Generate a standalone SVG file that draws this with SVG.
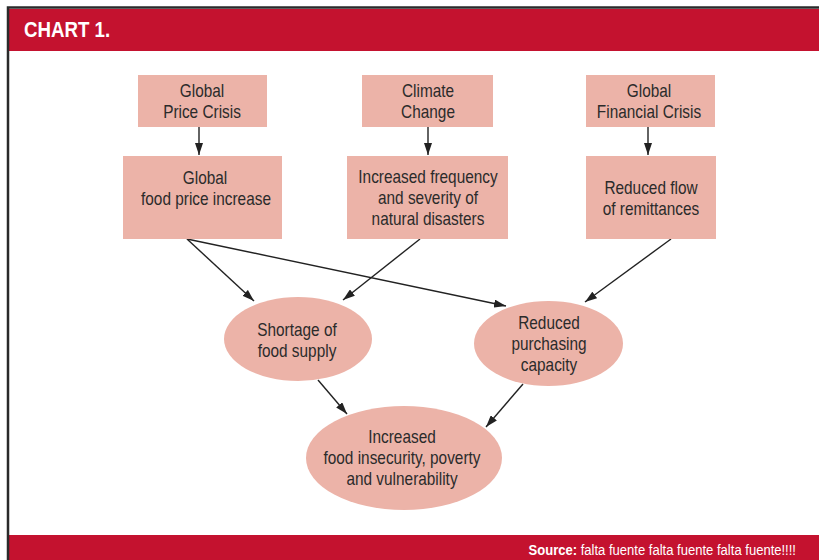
<svg xmlns="http://www.w3.org/2000/svg" width="819" height="560" viewBox="0 0 819 560">
<defs>
<style>
.box{fill:#ecb3a8;}
.t{font-family:"Liberation Sans",Arial,sans-serif;font-size:18px;fill:#2b2b2b;text-anchor:middle;}
.c{stroke:#222;stroke-width:1.4;fill:none;marker-end:url(#ah);}
</style>
<marker id="ah" viewBox="0 0 12 8" refX="12" refY="4" markerWidth="12" markerHeight="8" markerUnits="userSpaceOnUse" orient="auto">
<path d="M0,0 L12,4 L0,8 Z" fill="#222"/>
</marker>
</defs>
<rect x="0" y="0" width="819" height="560" fill="#fff"/>
<rect x="9" y="9" width="810" height="42" fill="#c4122f"/>
<rect x="9" y="535" width="810" height="25" fill="#c4122f"/>
<path d="M8,560 V7.5 H819" stroke="#2a2a2a" stroke-width="2.5" fill="none"/>
<text transform="translate(24,0) scale(0.85,1)" x="0" y="37" font-family="Liberation Sans,Arial,sans-serif" font-weight="bold" font-size="22" fill="#fff">CHART 1.</text>
<text transform="translate(796,0) scale(0.9,1)" x="0" y="555" text-anchor="end" font-family="Liberation Sans,Arial,sans-serif" font-size="14.5" fill="#fff"><tspan font-weight="bold">Source:</tspan> falta fuente falta fuente falta fuente!!!!</text>

<g id="connectors">
<line class="c" x1="199" y1="127" x2="199" y2="155"/>
<line class="c" x1="428" y1="127" x2="428" y2="155"/>
<line class="c" x1="648" y1="127" x2="648" y2="155"/>
<line class="c" x1="187" y1="239" x2="254" y2="301"/>
<line class="c" x1="187" y1="239" x2="506" y2="306"/>
<line class="c" x1="420" y1="239" x2="343" y2="300"/>
<line class="c" x1="671" y1="239" x2="585" y2="302"/>
<line class="c" x1="318" y1="380" x2="347" y2="414"/>
<line class="c" x1="523" y1="384" x2="486" y2="427"/>
</g>

<g id="global-price-crisis">
<rect class="box" x="138" y="75" width="129" height="52"/>
<text class="t" transform="translate(202,0) scale(0.855,1)" x="0" y="97">Global</text>
<text class="t" transform="translate(202,0) scale(0.855,1)" x="0" y="118">Price Crisis</text>
</g>
<g id="climate-change">
<rect class="box" x="362" y="75" width="131" height="52"/>
<text class="t" transform="translate(428,0) scale(0.855,1)" x="0" y="97">Climate</text>
<text class="t" transform="translate(428,0) scale(0.855,1)" x="0" y="118">Change</text>
</g>
<g id="global-financial-crisis">
<rect class="box" x="586" y="75" width="129" height="52"/>
<text class="t" transform="translate(649,0) scale(0.855,1)" x="0" y="97">Global</text>
<text class="t" transform="translate(649,0) scale(0.855,1)" x="0" y="118">Financial Crisis</text>
</g>
<g id="food-price-increase">
<rect class="box" x="123" y="156" width="159" height="83"/>
<text class="t" transform="translate(205,0) scale(0.855,1)" x="0" y="184">Global</text>
<text class="t" transform="translate(206,0) scale(0.855,1)" x="0" y="205">food price increase</text>
</g>
<g id="natural-disasters">
<rect class="box" x="347" y="156" width="161" height="83"/>
<text class="t" transform="translate(428,0) scale(0.855,1)" x="0" y="183">Increased frequency</text>
<text class="t" transform="translate(428,0) scale(0.855,1)" x="0" y="204">and severity of</text>
<text class="t" transform="translate(428,0) scale(0.855,1)" x="0" y="225">natural disasters</text>
</g>
<g id="remittances">
<rect class="box" x="586" y="156" width="130" height="83"/>
<text class="t" transform="translate(651,0) scale(0.855,1)" x="0" y="194">Reduced flow</text>
<text class="t" transform="translate(651,0) scale(0.855,1)" x="0" y="215">of remittances</text>
</g>
<g id="shortage">
<ellipse class="box" cx="298" cy="339" rx="74" ry="42"/>
<text class="t" transform="translate(297,0) scale(0.855,1)" x="0" y="336">Shortage of</text>
<text class="t" transform="translate(297,0) scale(0.855,1)" x="0" y="357">food supply</text>
</g>
<g id="purchasing">
<ellipse class="box" cx="548.5" cy="343.5" rx="74.5" ry="42.5"/>
<text class="t" transform="translate(549,0) scale(0.855,1)" x="0" y="329">Reduced</text>
<text class="t" transform="translate(549,0) scale(0.855,1)" x="0" y="350">purchasing</text>
<text class="t" transform="translate(549,0) scale(0.855,1)" x="0" y="371">capacity</text>
</g>
<g id="insecurity">
<ellipse class="box" cx="404" cy="458" rx="98" ry="52"/>
<text class="t" transform="translate(402,0) scale(0.855,1)" x="0" y="443">Increased</text>
<text class="t" transform="translate(402,0) scale(0.855,1)" x="0" y="464">food insecurity, poverty</text>
<text class="t" transform="translate(402,0) scale(0.855,1)" x="0" y="485">and vulnerability</text>
</g>
</svg>
